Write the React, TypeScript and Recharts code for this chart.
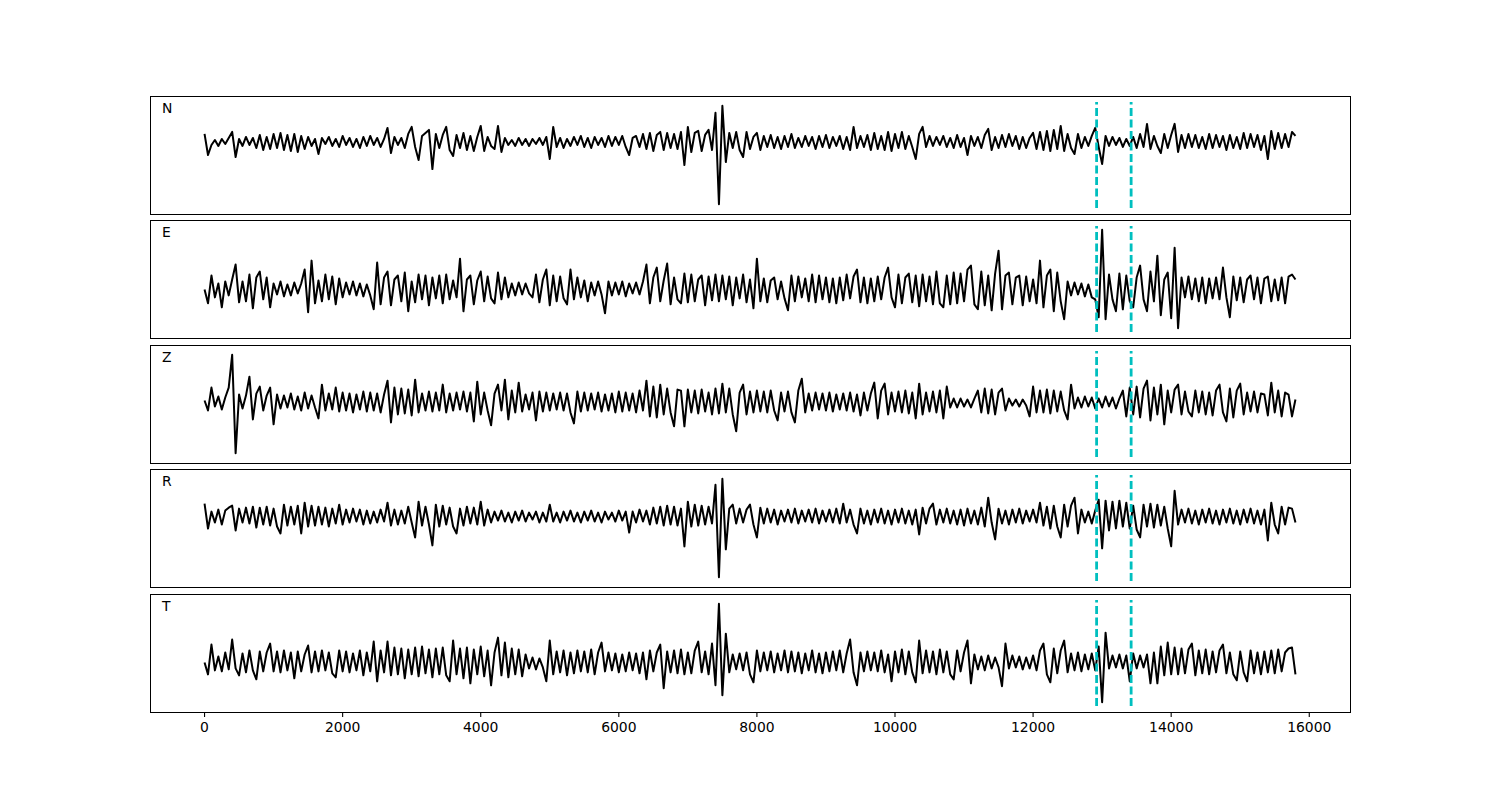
import React from "react"
import { LineChart, Line, XAxis, YAxis, ReferenceLine } from "recharts"

// station components, top to bottom
const COMPONENTS = ["N", "E", "Z", "R", "T"]

// amplitudes, one sample every 50 points (0 .. 15800)
const N_TRACE = [
  8, -13, -3, 2, -4, 3, -2, 4, 10, -15,
  3, -4, 5, -3, 4, -6, 7, -8, 5, -7,
  8, -6, 9, -8, 7, -9, 8, -10, 6, -7,
  5, -4, 3, -12, 4, -2, 5, -4, 3, -5,
  6, -3, 4, -5, 3, -6, 5, -4, 6, -3,
  4, -5, 3, 14, -11, 5, -3, 4, -6, 8,
  15, -5, -18, 6, 9, 12, -27, 8, -6, 7,
  15, -8, -14, 7, -6, 9, -8, 6, -9, 5,
  16, -9, 5, -4, -7, 16, -10, 4, -3, 2,
  -4, 4, -3, 3, -4, 3, -2, 4, -3, 5,
  -17, 15, -5, 4, -6, 3, -4, 5, -3, 6,
  -5, 4, -6, 5, -3, 4, -5, 6, -4, 5,
  -3, 6, -5, -13, 4, 6, -5, 8, -7, 9,
  -9, 7, 10, -8, 9, -6, 8, -7, 10, -23,
  15, -10, 9, 11, -9, 7, 12, -8, 29, -62,
  36, -20, 9, -6, 10, -8, -15, 10, -7, 5,
  9, -8, 6, -5, 7, -6, 5, -7, 6, -5,
  8, -6, 4, -5, 6, -4, 5, -7, 6, -5,
  7, -6, 5, -4, 6, -7, 5, -8, 15, -6,
  6, -5, 7, -8, 9, -7, 6, -8, 10, -9,
  8, -6, 10, -7, 6, -5, -17, 8, 15, -5,
  6, -4, 5, -3, 6, -5, 4, -6, 7, -5,
  4, -13, 6, -4, 5, -6, 7, 13, -8, 5,
  -6, 7, -5, 8, -4, 6, -7, 5, -6, 4,
  9, -7, 10, -8, 11, -9, 12, -7, 16, -9,
  8, -6, -12, 8, -6, 5, -4, 6, 14, -5,
  -22, 6, -4, 5, -3, 4, -5, 3, -4, 5,
  -6, 8, -5, 18, -7, 6, -4, -11, 8, -6,
  7, 18, -10, 7, -6, 8, -5, 7, -6, 5,
  -7, 8, -6, 7, -5, 6, -8, 7, -6, 5,
  -7, 9, -6, 8, -5, 7, -8, 6, -17, 11,
  -7, 9, -6, 8, -5, 10, 6,
]

const E_TRACE = [
  0, -14, 14, -8, 6, -18, 8, -6, 10, 25,
  -13, 8, -12, 15, -19, 12, 18, -10, 12, -18,
  6, -5, 8, -7, 5, -6, 7, -4, 6, 20,
  -23, 29, -14, 9, -12, 15, -10, 13, -15, 11,
  -8, 7, -5, 8, -6, 6, -7, 5, -6, -20,
  27, -15, 12, 18, -16, 10, 14, -12, 17, -22,
  8, -13, 15, -10, 14, -16, 12, -9, 14, -14,
  15, -10, 9, -8, 31, -22, 10, 14, -15, 9,
  18, -12, 13, -9, -14, 17, -10, 12, -8, 6,
  -6, 7, -5, 6, -4, -8, 15, -13, 10, 20,
  -16, 14, -12, 13, -9, -15, 20, -10, 12, -8,
  9, -12, 7, -6, 8, -5, -24, 8, -6, 7,
  -5, 8, -7, 6, -4, 7, -5, 8, 25, -14,
  12, 22, -12, 9, 26, -15, 12, -10, -14, 16,
  -13, 15, -12, 10, 14, -16, 13, -11, 15, -12,
  14, -10, 13, -16, 12, -9, 15, -13, 10, -19,
  31, -12, 11, -13, 9, 12, -10, 8, -9, -21,
  14, -12, 13, -8, 11, -12, 15, -13, 14, -10,
  12, -13, 11, -14, 12, -11, 15, -9, 13, 20,
  -13, 12, -14, 11, -12, 13, -10, 12, 22, -8,
  -18, 15, -14, 12, 16, -13, 14, -17, 15, -12,
  13, -15, 18, -14, -18, 14, -15, 17, -14, 16,
  -12, 20, 24, -15, -20, 18, -16, 14, -21, 16,
  39, -20, 14, 17, -15, 12, 14, -16, 13, -12,
  10, -14, 29, -18, 14, 20, -22, 17, -12, -30,
  8, -6, 7, -5, 6, -7, 5, -8, -10, -28,
  60, -30, 15, -10, -22, 16, -20, 14, -12, -18,
  12, 24, -10, -22, 18, -12, 34, -26, 10, 17,
  -29, 42, -39, 12, -8, 13, -10, 11, -12, 12,
  -14, 11, -9, 12, -10, 22, -8, -28, 13, -11,
  12, -13, 10, 14, -10, 12, -14, 11, 13, -12,
  10, -11, 12, -14, 13, 15, 10,
]

const Z_TRACE = [
  2, -8, 15, -4, 6, -7, 5, 15, 48, -51,
  8, -6, 7, 26, -17, 9, 16, -8, 7, 15,
  -22, 8, -6, 7, -5, 9, -7, 6, -8, 10,
  -6, 7, -5, -16, 18, -8, 9, -7, 15, -9,
  10, -8, 9, -10, 8, -7, 11, -9, 10, -8,
  9, -10, 8, 22, -20, 15, -12, 14, -11, 13,
  -13, 23, -10, 9, -8, 11, -9, 10, -8, 18,
  -10, 9, -8, 10, -7, 11, -9, 10, -19, 21,
  -12, 10, -8, -23, 9, 18, -8, 23, -17, 12,
  -10, 20, -9, 8, -7, 10, -18, 11, -9, 10,
  -8, 9, -7, 10, -8, 9, -10, -21, 11, -9,
  10, -8, 9, -7, 10, -9, 8, -8, 9, -10,
  11, -9, 10, -8, 9, -10, 12, -8, 22, -14,
  16, -15, 18, -12, 14, -10, -24, 13, 12, -24,
  13, -10, 12, -11, 13, -9, 10, -12, 14, -11,
  19, -10, 14, -12, -29, 10, 18, -12, 11, -10,
  12, -9, 11, -10, 12, -8, -18, 10, -9, 11,
  -10, -20, 12, 24, -10, 9, -8, 10, -7, 9,
  -8, 10, -9, 8, -7, 9, -8, 10, -9, 8,
  -13, 10, -8, 9, 20, -16, 12, 19, -12, 10,
  -9, 11, -10, 12, -11, 10, -16, 19, -12, 10,
  -9, 11, -10, 12, -16, 16, -5, 4, -5, 4,
  -4, 3, -5, 4, 12, -10, 14, -11, 13, -12,
  10, 14, -8, 4, -3, 3, -4, 3, -3, -14,
  16, -10, 12, -10, 13, -11, 12, -9, 11, -8,
  -17, 18, -6, 5, -5, 6, -4, 5, -6, 4,
  -5, 6, -4, 5, -6, 4, 12, -14, 15, -12,
  16, -15, 14, 22, -18, 15, -12, 18, -22, 12,
  -10, 13, 18, -12, 11, -9, -14, 12, -10, 11,
  -12, 10, -13, 12, 18, -10, -19, 14, -15, 12,
  19, -12, 10, -9, 11, -10, 9, 8, -13, 20,
  -10, 12, -14, 10, 8, -14, 3,
]

const R_TRACE = [
  13, -12, 5, -6, 7, -8, 6, 9, 11, -14,
  8, -6, 9, -7, 10, -11, 9, -8, 10, -9,
  8, -10, -17, 12, -9, 10, -8, 11, -17, 14,
  -10, 11, -9, 10, -8, 9, -10, 8, -7, 12,
  -8, 7, -6, 8, -5, 7, -8, 6, -7, 5,
  -6, 7, -5, 14, -9, 7, -8, 6, -7, 10,
  -6, -21, 15, -9, 10, -8, -29, 12, -10, 11,
  -8, 9, -10, -17, 8, -9, 10, -7, 9, -8,
  15, -9, 7, -6, 5, -4, 6, -5, 4, -6,
  5, -4, 6, -5, 4, -3, 5, -6, 4, -5,
  12, -5, 4, -6, 5, -4, 6, -5, 4, -6,
  5, -4, 6, -5, 4, -6, 5, -3, 4, -5,
  6, -4, 5, -16, 5, -6, 7, -5, 6, -8,
  9, -7, 10, -9, 11, -8, 10, -9, 8, -30,
  15, -10, 12, -9, 11, -8, 10, -7, 32, -61,
  38, -33, 8, 12, -7, 8, -6, 7, 12, -8,
  -21, 9, -7, 8, -6, 7, -8, 6, -5, 7,
  -6, 8, -7, 6, -5, 7, -6, 8, -7, 6,
  -5, 7, -6, 8, -7, 13, -6, 7, -8, -17,
  8, -7, 6, -8, 7, -6, 8, -7, 6, -8,
  7, -6, 8, -7, 6, -8, 7, -18, 9, -7,
  8, 13, -8, 7, -6, 8, -7, 6, -8, 7,
  -9, 8, -7, 6, -8, 9, -10, 19, -6, -23,
  8, -7, 6, -8, 7, -6, 8, -7, 6, -5,
  7, -6, 14, -9, 10, -12, 11, -10, -21, 12,
  -10, 11, 19, -17, 7, -6, 5, -7, 6, 17,
  -32, 16, -14, 15, -12, 16, -10, 14, -12, 11,
  -13, -21, 12, -10, 13, -11, 12, -9, 10, -12,
  -30, 26, -8, 7, -6, 8, -7, 6, -8, 7,
  -6, 8, -7, 6, -8, 7, -6, 8, -7, 6,
  -8, 7, -6, 8, -7, 6, -8, 7, -24, 14,
  -8, -17, 10, -8, 9, 8, -6,
]

const T_TRACE = [
  0, -12, 18, -8, 6, -9, 10, -7, 23, -6,
  -13, 9, -10, 12, -8, -17, 11, -9, 10, 19,
  -9, 11, -10, 12, -8, 10, -16, 11, -9, 8,
  17, -10, 11, -9, 12, -8, 10, -11, -15, 12,
  -9, 11, -10, 9, -8, 12, -13, 10, -9, 21,
  -19, 12, -10, 21, -13, 15, -12, 14, -16, 13,
  -12, 15, -14, 16, -11, 13, -15, 14, -12, 15,
  -13, -19, 22, -12, 14, -16, 15, -21, 13, -12,
  16, -14, 12, -23, 10, 25, -13, 20, -15, 14,
  -12, 13, -14, 8, -6, 5, -7, 4, -5, -19,
  22, -12, 11, -10, 12, -13, 10, -11, 12, -9,
  11, -10, 13, -12, 10, 20, -9, 10, -8, 9,
  -10, 8, -9, 10, -8, 9, -11, 10, -17, 12,
  -9, 10, 18, -26, 11, -10, 12, -11, 13, -12,
  10, -11, 12, 21, -10, 11, -12, 19, -23, 59,
  -33, 29, -10, 8, -7, 9, -8, 10, -12, -20,
  12, -9, 10, -8, 11, -10, 9, -8, 12, -10,
  11, -9, 10, -11, 9, -8, 12, -10, 9, -11,
  10, -9, 11, -8, 12, -10, 9, 23, -10, -23,
  10, -9, 11, -8, 10, -9, 12, -10, 8, -19,
  11, -10, 13, -12, 11, -10, -20, 22, -11, 12,
  -10, 11, -12, 13, -10, 11, -12, -17, 12, -9,
  10, 22, -21, 8, -7, 6, -8, 7, -6, 5,
  -5, -24, 19, -6, 7, -5, 6, -7, 5, -6,
  7, -8, 12, 19, -12, -20, 14, -11, 12, 22,
  -10, 9, -8, 10, -9, 8, -7, 9, -8, 16,
  -40, 30, -6, 7, -5, 8, -6, 7, -19, 9,
  -6, 7, -5, 8, -21, 10, -21, 16, -13, 20,
  -12, 15, -12, 14, -11, 13, 19, -13, 12, -11,
  13, -12, 11, -10, 12, 18, -11, 10, -12, -18,
  11, -10, -19, 12, -11, 10, -12, 11, -10, 12,
  -11, 13, -9, 10, 14, 15, -12,
]

const TRACES = [N_TRACE, E_TRACE, Z_TRACE, R_TRACE, T_TRACE]
const DURATION = 15800
const X_TICKS = [0, 2000, 4000, 6000, 8000, 10000, 12000, 14000, 16000]
const PICKS = [12920, 13420]

const PANEL_TOPS = [96, 220, 345, 469, 594]
const PANEL_H = 118
const FONT = "DejaVu Sans, sans-serif"

function Panel({ label, values, top, last }: { label: string; values: number[]; top: number; last: boolean }) {
  const data = values.map((v, i) => ({ t: (i * DURATION) / (values.length - 1), v }))
  const lo = Math.min(...values)
  const hi = Math.max(...values)
  const pad = (hi - lo) * 0.1
  const y0 = lo - pad
  const y1 = hi + pad
  const span = y1 - y0
  const axisH = last ? 40 : 6

  return (
    <div style={{ position: "absolute", left: 0, top, width: 1500, height: PANEL_H + axisH }}>
      <LineChart
        width={1500}
        height={PANEL_H + axisH}
        data={data}
        margin={{ top: 0, right: 150, bottom: 0, left: 150 }}
      >
        <XAxis
          dataKey="t"
          type="number"
          domain={[-790, 16590]}
          ticks={X_TICKS}
          interval={0}
          allowDataOverflow
          height={axisH}
          axisLine={false}
          tickSize={5}
          tickMargin={5}
          tickLine={{ stroke: "#000", strokeWidth: 1.1 }}
          tick={last ? { fill: "#000", fontSize: 13.9, fontFamily: FONT } : false}
        />
        <YAxis hide type="number" domain={[y0, y1]} allowDataOverflow />
        <Line
          dataKey="v"
          type="linear"
          stroke="#000"
          strokeWidth={2}
          strokeLinejoin="round"
          dot={false}
          isAnimationActive={false}
        />
        {PICKS.map((p) => (
          <ReferenceLine
            key={p}
            segment={[
              { x: p, y: y0 + 0.05 * span },
              { x: p, y: y1 - 0.05 * span },
            ]}
            stroke="#00bfbf"
            strokeWidth={2.8}
            strokeDasharray="8 3.5"
          />
        ))}
      </LineChart>
      {/* frame */}
      <div
        style={{
          position: "absolute",
          left: 150,
          top: 0,
          width: 1201,
          height: PANEL_H + 1,
          border: "1.1px solid #000",
          boxSizing: "border-box",
          pointerEvents: "none",
        }}
      />
      <div
        style={{
          position: "absolute",
          left: 162,
          top: 5,
          fontFamily: FONT,
          fontSize: 13.9,
          lineHeight: "14px",
          color: "#000",
        }}
      >
        {label}
      </div>
    </div>
  )
}

export default function App() {
  return (
    <div style={{ position: "absolute", left: 0, top: 0, width: 1500, height: 800, background: "#fff" }}>
      {COMPONENTS.map((c, i) => (
        <Panel key={c} label={c} values={TRACES[i]} top={PANEL_TOPS[i]} last={i === COMPONENTS.length - 1} />
      ))}
    </div>
  )
}
